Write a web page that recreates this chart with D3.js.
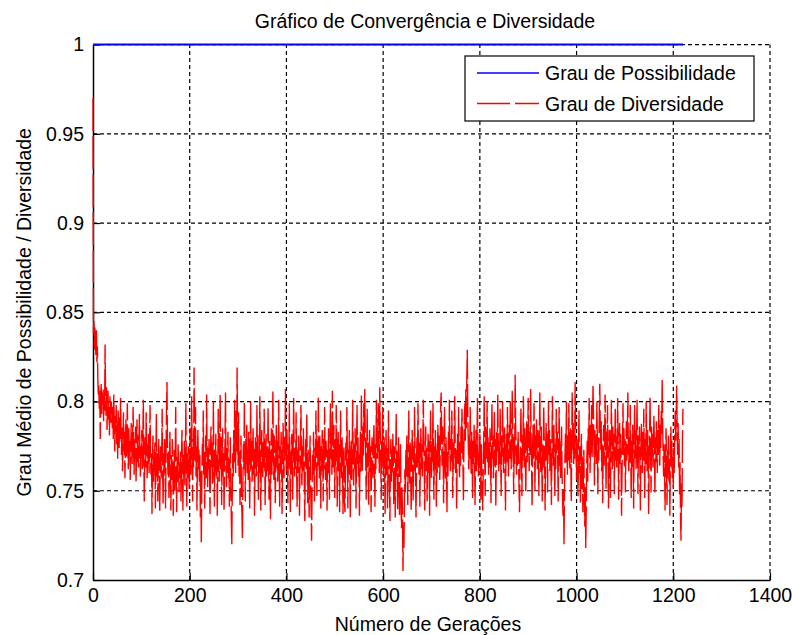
<!DOCTYPE html>
<html>
<head>
<meta charset="utf-8">
<script src="https://cdn.jsdelivr.net/npm/d3@7"></script>
<style>
  body { margin: 0; background: #fff; }
  text { font-family: "Liberation Sans", Arial, sans-serif; fill: #000; }
</style>
</head>
<body>
<svg id="chart"></svg>
<script>
// tick labels
const xTicks = [0, 200, 400, 600, 800, 1000, 1200, 1400];
const yTicks = [0.7, 0.75, 0.8, 0.85, 0.9, 0.95, 1];
const yTickLabels = ["0.7", "0.75", "0.8", "0.85", "0.9", "0.95", "1"];

// series names
const seriesNames = ["Grau de Possibilidade", "Grau de Diversidade"];

// Grau de Possibilidade: flat at 1 from generation 0 to 1220
const possibilidadeGeracoes = [0, 1220];
const possibilidadeValores = [1, 1];

// Grau de Diversidade, one value per generation (0..1220)
const diversidade = [
0.970,0.838,0.845,0.829,0.842,0.834,0.826,0.840,0.822,0.831,0.812,0.804,0.809,0.796,0.806,0.779,0.801,0.810,0.793,0.805,
0.798,0.807,0.789,0.802,0.795,0.832,0.801,0.792,0.808,0.784,0.799,0.806,0.790,0.797,0.781,0.803,0.794,0.787,0.800,0.791,
0.785,0.797,0.779,0.804,0.788,0.772,0.792,0.783,0.798,0.776,0.789,0.768,0.795,0.781,0.774,0.791,0.779,0.802,0.785,0.770,
0.786,0.761,0.779,0.794,0.772,0.783,0.757,0.775,0.790,0.769,0.781,0.799,0.774,0.762,0.785,0.771,0.778,0.756,0.773,0.788,
0.776,0.765,0.782,0.797,0.771,0.759,0.779,0.768,0.786,0.754,0.772,0.790,0.766,0.781,0.763,0.777,0.793,0.770,0.758,0.775,
0.768,0.784,0.762,0.777,0.801,0.771,0.744,0.769,0.780,0.763,0.794,0.773,0.757,0.776,0.765,0.782,0.760,0.774,0.798,0.767,
0.759,0.772,0.737,0.766,0.781,0.755,0.769,0.761,0.777,0.740,0.764,0.793,0.758,0.771,0.744,0.767,0.779,0.760,0.738,0.763,
0.775,0.757,0.768,0.796,0.762,0.742,0.771,0.758,0.780,0.765,0.740,0.769,0.795,0.811,0.776,0.759,0.772,0.746,0.766,0.783,
0.761,0.739,0.770,0.756,0.779,0.764,0.736,0.758,0.773,0.750,0.767,0.797,0.760,0.738,0.769,0.755,0.776,0.762,0.749,0.766,
0.757,0.772,0.744,0.768,0.784,0.761,0.739,0.770,0.759,0.778,0.753,0.766,0.799,0.763,0.741,0.771,0.757,0.775,0.762,0.751,
0.768,0.785,0.759,0.774,0.803,0.770,0.744,0.779,0.763,0.819,0.781,0.766,0.797,0.758,0.775,0.739,0.769,0.784,0.761,0.773,
0.755,0.770,0.735,0.762,0.720,0.753,0.776,0.764,0.795,0.759,0.772,0.740,0.765,0.781,0.757,0.804,0.769,0.752,0.774,0.762,
0.779,0.760,0.737,0.771,0.786,0.763,0.777,0.754,0.768,0.800,0.766,0.741,0.773,0.761,0.782,0.758,0.770,0.736,0.764,0.796,
0.769,0.755,0.776,0.804,0.762,0.780,0.742,0.767,0.785,0.758,0.771,0.738,0.763,0.778,0.805,0.765,0.752,0.774,0.760,0.783,
0.757,0.768,0.741,0.762,0.780,0.753,0.735,0.720,0.749,0.771,0.758,0.784,0.766,0.801,0.775,0.760,0.795,0.772,0.819,0.778,
0.764,0.794,0.758,0.773,0.742,0.766,0.781,0.745,0.738,0.723,0.755,0.776,0.762,0.800,0.769,0.744,0.779,0.765,0.788,0.760,
0.774,0.756,0.783,0.767,0.740,0.771,0.800,0.762,0.778,0.755,0.768,0.786,0.759,0.775,0.736,0.763,0.780,0.770,0.757,0.798,
0.766,0.781,0.745,0.772,0.760,0.803,0.774,0.739,0.765,0.784,0.769,0.757,0.778,0.763,0.796,0.771,0.742,0.767,0.782,0.758,
0.775,0.761,0.797,0.768,0.745,0.779,0.765,0.734,0.770,0.785,0.759,0.776,0.806,0.772,0.756,0.781,0.764,0.743,0.769,0.787,
0.763,0.778,0.755,0.771,0.801,0.766,0.741,0.775,0.760,0.783,0.769,0.737,0.762,0.788,0.773,0.757,0.780,0.767,0.807,0.776,
0.761,0.784,0.770,0.743,0.776,0.763,0.799,0.768,0.738,0.772,0.759,0.782,0.766,0.745,0.779,0.802,0.771,0.758,0.774,0.762,
0.794,0.765,0.741,0.773,0.760,0.781,0.768,0.736,0.762,0.777,0.798,0.767,0.753,0.775,0.761,0.785,0.770,0.756,0.733,0.764,
0.779,0.762,0.793,0.768,0.743,0.773,0.758,0.735,0.766,0.781,0.755,0.740,0.722,0.748,0.770,0.759,0.783,0.767,0.744,0.774,
0.763,0.795,0.770,0.746,0.778,0.764,0.803,0.772,0.757,0.781,0.766,0.740,0.775,0.761,0.784,0.769,0.744,0.779,0.762,0.797,
0.771,0.756,0.778,0.765,0.739,0.773,0.760,0.785,0.769,0.745,0.776,0.799,0.768,0.782,0.759,0.806,0.774,0.763,0.787,0.770,
0.746,0.779,0.764,0.798,0.772,0.741,0.768,0.783,0.761,0.776,0.738,0.765,0.795,0.771,0.757,0.780,0.766,0.737,0.769,0.775,
0.745,0.738,0.761,0.777,0.764,0.797,0.770,0.740,0.773,0.759,0.784,0.767,0.735,0.763,0.778,0.756,0.772,0.801,0.768,0.753,
0.776,0.762,0.785,0.770,0.740,0.774,0.798,0.765,0.780,0.758,0.771,0.736,0.767,0.783,0.760,0.804,0.775,0.761,0.786,0.769,
0.799,0.778,0.807,0.781,0.766,0.745,0.772,0.796,0.763,0.777,0.742,0.768,0.784,0.760,0.775,0.738,0.764,0.780,0.771,0.757,
0.773,0.788,0.765,0.741,0.776,0.762,0.801,0.779,0.768,0.785,0.799,0.774,0.760,0.808,0.783,0.770,0.745,0.778,0.764,0.797,
0.771,0.757,0.780,0.765,0.737,0.768,0.784,0.759,0.774,0.740,0.762,0.795,0.770,0.752,0.733,0.766,0.779,0.755,0.773,0.760,
0.782,0.767,0.742,0.775,0.761,0.735,0.769,0.793,0.758,0.772,0.739,0.764,0.780,0.753,0.735,0.760,0.776,0.745,0.729,0.752,
0.738,0.705,0.731,0.718,0.744,0.762,0.749,0.773,0.758,0.781,0.766,0.742,0.770,0.795,0.763,0.754,0.777,0.760,0.738,0.769,
0.784,0.767,0.744,0.775,0.761,0.797,0.771,0.757,0.735,0.766,0.780,0.763,0.799,0.774,0.759,0.777,0.741,0.768,0.785,0.762,
0.776,0.758,0.771,0.801,0.780,0.764,0.739,0.769,0.786,0.761,0.774,0.744,0.767,0.782,0.760,0.778,0.736,0.765,0.795,0.772,
0.757,0.779,0.766,0.799,0.770,0.745,0.775,0.762,0.784,0.769,0.741,0.773,0.760,0.787,0.776,0.763,0.781,0.756,0.771,0.798,
0.805,0.778,0.764,0.786,0.769,0.743,0.775,0.797,0.767,0.756,0.780,0.763,0.738,0.772,0.758,0.783,0.770,0.801,0.774,0.761,
0.779,0.766,0.795,0.771,0.746,0.777,0.762,0.784,0.803,0.776,0.760,0.773,0.740,0.768,0.782,0.765,0.797,0.770,0.757,0.778,
0.764,0.786,0.771,0.796,0.780,0.767,0.744,0.775,0.789,0.799,0.778,0.808,0.785,0.812,0.829,0.794,0.777,0.762,0.781,0.768,
0.797,0.774,0.759,0.783,0.770,0.746,0.778,0.764,0.787,0.772,0.742,0.769,0.784,0.761,0.776,0.802,0.773,0.758,0.771,0.765,
0.782,0.767,0.745,0.776,0.760,0.748,0.739,0.762,0.779,0.803,0.771,0.747,0.786,0.768,0.774,0.800,0.766,0.780,0.759,0.777,
0.763,0.785,0.770,0.743,0.775,0.799,0.768,0.781,0.757,0.773,0.795,0.764,0.779,0.741,0.767,0.784,0.772,0.804,0.776,0.761,
0.778,0.765,0.796,0.774,0.747,0.781,0.769,0.800,0.777,0.760,0.772,0.786,0.763,0.739,0.771,0.782,0.766,0.797,0.775,0.758,
0.773,0.787,0.768,0.801,0.779,0.762,0.775,0.806,0.784,0.770,0.748,0.780,0.765,0.815,0.788,0.772,0.759,0.776,0.764,0.783,
0.769,0.752,0.738,0.761,0.777,0.797,0.771,0.747,0.782,0.767,0.803,0.778,0.763,0.785,0.772,0.749,0.774,0.789,0.766,0.780,
0.802,0.776,0.761,0.783,0.770,0.807,0.779,0.764,0.741,0.773,0.787,0.768,0.799,0.775,0.750,0.781,0.766,0.790,0.777,0.762,
0.784,0.771,0.747,0.778,0.805,0.774,0.760,0.786,0.769,0.744,0.776,0.763,0.798,0.780,0.765,0.739,0.772,0.788,0.767,0.782,
0.749,0.775,0.800,0.770,0.784,0.761,0.779,0.766,0.742,0.773,0.803,0.781,0.764,0.787,0.772,0.747,0.776,0.762,0.796,0.771,
0.783,0.768,0.744,0.775,0.797,0.764,0.779,0.757,0.771,0.786,0.760,0.745,0.736,0.751,0.720,0.748,0.769,0.782,0.766,0.800,
0.774,0.759,0.781,0.767,0.799,0.776,0.762,0.785,0.770,0.744,0.778,0.805,0.773,0.788,0.765,0.782,0.768,0.811,0.786,0.771,
0.756,0.779,0.763,0.747,0.772,0.795,0.760,0.775,0.743,0.766,0.782,0.751,0.769,0.738,0.757,0.773,0.745,0.730,0.752,0.718,
0.741,0.764,0.778,0.755,0.785,0.770,0.802,0.774,0.760,0.787,0.771,0.798,0.768,0.783,0.810,0.790,0.776,0.753,0.784,0.769,
0.781,0.765,0.800,0.777,0.748,0.780,0.767,0.795,0.810,0.786,0.773,0.789,0.761,0.776,0.743,0.771,0.787,0.764,0.779,0.804,
0.775,0.751,0.783,0.768,0.798,0.772,0.740,0.766,0.784,0.770,0.746,0.779,0.801,0.773,0.762,0.786,0.769,0.782,0.748,0.774,
0.797,0.767,0.781,0.763,0.778,0.802,0.771,0.745,0.776,0.788,0.765,0.782,0.769,0.736,0.761,0.777,0.799,0.770,0.785,0.764,
0.779,0.749,0.774,0.789,0.767,0.783,0.805,0.775,0.761,0.780,0.766,0.798,0.772,0.746,0.778,0.763,0.787,0.770,0.740,0.776,
0.798,0.768,0.784,0.762,0.777,0.801,0.773,0.748,0.781,0.769,0.786,0.764,0.739,0.772,0.788,0.775,0.760,0.783,0.767,0.796,
0.771,0.746,0.779,0.765,0.800,0.776,0.761,0.784,0.770,0.737,0.766,0.781,0.803,0.774,0.749,0.786,0.769,0.782,0.763,0.777,
0.792,0.772,0.748,0.780,0.766,0.789,0.775,0.760,0.784,0.770,0.798,0.779,0.764,0.787,0.773,0.795,0.782,0.812,0.788,0.771,
0.758,0.776,0.762,0.739,0.770,0.785,0.765,0.742,0.773,0.760,0.781,0.755,0.768,0.736,0.771,0.786,0.763,0.778,0.757,0.769,
0.752,0.774,0.760,0.783,0.795,0.778,0.791,0.809,0.786,0.770,0.788,0.763,0.779,0.748,0.766,0.735,0.722,0.754,0.741,0.780,0.796
];

const config = {
  width: 792,
  height: 635,
  margin: {top: 44.6, right: 22, bottom: 55, left: 93}
};

const svg = d3.select("#chart")
  .attr("width", config.width)
  .attr("height", config.height);

const x = d3.scaleLinear()
  .domain([0, 1400])
  .range([config.margin.left, config.width - config.margin.right]);

const y = d3.scaleLinear()
  .domain([0.7, 1])
  .range([config.height - config.margin.bottom, config.margin.top]);

const fontSize = "19.5px";

// dashed grid (MATLAB "grid on"), box is off so top/right are only grid lines
const grid = svg.append("g").attr("class", "grid");
grid.selectAll(".vgrid")
  .data(xTicks.filter(d => d > 0))
  .join("line")
    .attr("class", "vgrid")
    .attr("x1", d => x(d)).attr("x2", d => x(d))
    .attr("y1", y(0.7)).attr("y2", y(1))
    .attr("stroke", "#000")
    .attr("stroke-width", 1.2)
    .attr("stroke-dasharray", "4,3");
grid.selectAll(".hgrid")
  .data(yTicks.filter(d => d > 0.7))
  .join("line")
    .attr("class", "hgrid")
    .attr("x1", x(0)).attr("x2", x(1400))
    .attr("y1", d => y(d)).attr("y2", d => y(d))
    .attr("stroke", "#000")
    .attr("stroke-width", 1.2)
    .attr("stroke-dasharray", "4,3");

// axes: inward ticks
const xAxis = d3.axisBottom(x)
  .tickValues(xTicks)
  .tickSizeInner(-7)
  .tickSizeOuter(0)
  .tickPadding(8)
  .tickFormat(d3.format("d"));

const yAxis = d3.axisLeft(y)
  .tickValues(yTicks)
  .tickSizeInner(-7)
  .tickSizeOuter(0)
  .tickPadding(9)
  .tickFormat((d, i) => yTickLabels[i]);

const xAxisG = svg.append("g")
  .attr("transform", `translate(0,${y(0.7)})`)
  .call(xAxis);
const yAxisG = svg.append("g")
  .attr("transform", `translate(${x(0)},0)`)
  .call(yAxis);

[xAxisG, yAxisG].forEach(g => {
  g.select(".domain").attr("stroke", "#000").attr("stroke-width", 1.5);
  g.selectAll(".tick line").attr("stroke", "#000").attr("stroke-width", 1.2);
  g.selectAll(".tick text")
    .style("font-family", "'Liberation Sans', Arial, sans-serif")
    .style("font-size", fontSize)
    .attr("fill", "#000");
});
xAxisG.selectAll(".tick text").attr("dy", "0.71em");

// lines
const linePoss = d3.line()
  .x((d, i) => x(possibilidadeGeracoes[i]))
  .y(d => y(d));

const lineDiv = d3.line()
  .x((d, i) => x(i))
  .y(d => y(d));

svg.append("path")
  .datum(diversidade)
  .attr("fill", "none")
  .attr("stroke", "#ff0000")
  .attr("stroke-width", 1.4)
  .attr("stroke-dasharray", "33,5")
  .attr("d", lineDiv);

svg.append("path")
  .datum(possibilidadeValores)
  .attr("fill", "none")
  .attr("stroke", "#0000ff")
  .attr("stroke-width", 2)
  .attr("d", linePoss);

// titles
svg.append("text")
  .attr("x", 425)
  .attr("y", 28)
  .attr("text-anchor", "middle")
  .style("font-size", fontSize)
  .text("Gráfico de Convergência e Diversidade");

svg.append("text")
  .attr("x", 428)
  .attr("y", 631)
  .attr("text-anchor", "middle")
  .style("font-size", fontSize)
  .text("Número de Gerações");

svg.append("text")
  .attr("transform", `translate(31,${(y(0.7) + y(1)) / 2}) rotate(-90)`)
  .attr("text-anchor", "middle")
  .style("font-size", fontSize)
  .text("Grau Médio de Possibilidade / Diversidade");

// legend
const legend = svg.append("g").attr("transform", "translate(465,56)");
legend.append("rect")
  .attr("width", 289).attr("height", 65)
  .attr("fill", "#fff")
  .attr("stroke", "#000")
  .attr("stroke-width", 1.2);

const legendItems = [
  {name: seriesNames[0], color: "#0000ff", dash: null, y: 17},
  {name: seriesNames[1], color: "#ff0000", dash: "33,5", y: 47.5}
];
const item = legend.selectAll(".item")
  .data(legendItems)
  .join("g")
    .attr("class", "item")
    .attr("transform", d => `translate(0,${d.y})`);
item.append("line")
  .attr("x1", 12).attr("x2", 74)
  .attr("stroke", d => d.color)
  .attr("stroke-width", 1.6)
  .attr("stroke-dasharray", d => d.dash);
item.append("text")
  .attr("x", 80)
  .attr("dy", "0.36em")
  .style("font-size", fontSize)
  .text(d => d.name);
</script>
</body>
</html>
